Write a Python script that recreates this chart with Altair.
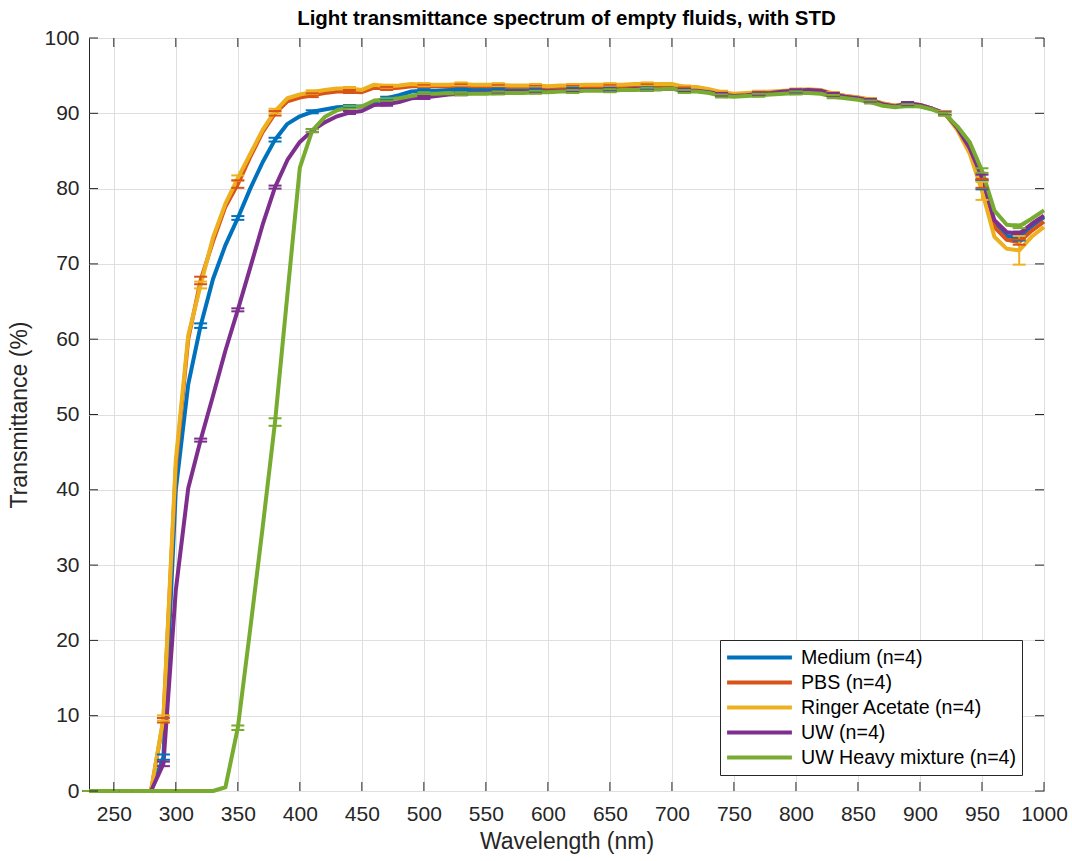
import altair as alt
import pandas as pd

# Wavelength grid of the spectrophotometer readings (nm)
wavelength = list(range(230, 1001, 10))

# Mean transmittance (%) per fluid, one value per wavelength
medium = [0, 0, 0, 0, 0, 0, 4.5, 40.0, 54.0, 61.8, 68.0, 72.5, 76.1, 80.0, 83.5, 86.5,
          88.6, 89.6, 90.2, 90.5, 90.8, 90.9, 90.9, 91.5, 92.0, 92.4, 92.9, 93.0,
          93.0, 93.1, 93.1, 93.1, 93.1, 93.1, 93.1, 93.1, 93.1, 93.1, 93.2, 93.2,
          93.2, 93.2, 93.2, 93.3, 93.3, 93.3, 93.3, 93.4, 93.1, 93.1, 92.9, 92.6,
          92.4, 92.5, 92.6, 92.7, 92.8, 92.9, 93.0, 92.9, 92.5, 92.2, 92.0, 91.7,
          91.2, 90.9, 91.2, 91.0, 90.6, 90.0, 88.1, 85.2, 80.5, 75.4, 73.7, 73.4,
          75.0, 76.2]
pbs = [0, 0, 0, 0, 0, 0, 9.4, 43.0, 60.0, 67.8, 73.0, 77.6, 80.6, 84.2, 87.5, 90.0,
       91.6, 92.1, 92.4, 92.7, 92.9, 92.9, 92.8, 93.4, 93.3, 93.4, 93.6, 93.6,
       93.6, 93.6, 93.7, 93.6, 93.6, 93.6, 93.5, 93.5, 93.5, 93.4, 93.5, 93.5,
       93.6, 93.6, 93.6, 93.6, 93.7, 93.7, 93.7, 93.7, 93.3, 93.3, 93.0, 92.7,
       92.5, 92.6, 92.7, 92.8, 92.9, 93.0, 93.1, 93.0, 92.6, 92.3, 92.1, 91.8,
       91.3, 91.0, 91.3, 91.1, 90.6, 90.0, 88.0, 85.0, 80.7, 74.9, 73.2, 72.9,
       74.4, 75.6]
ringer = [0, 0, 0, 0, 0, 0, 9.7, 44.0, 60.5, 67.2, 73.5, 78.0, 81.4, 84.6, 87.8, 90.3,
          92.0, 92.5, 92.8, 93.1, 93.3, 93.3, 93.1, 93.8, 93.6, 93.7, 93.9, 93.8,
          93.8, 93.8, 93.9, 93.8, 93.8, 93.8, 93.7, 93.7, 93.7, 93.6, 93.7, 93.7,
          93.8, 93.8, 93.8, 93.8, 93.9, 93.9, 93.9, 93.9, 93.5, 93.5, 93.2, 92.8,
          92.6, 92.7, 92.8, 92.9, 93.0, 93.1, 93.2, 93.1, 92.6, 92.3, 92.1, 91.8,
          91.3, 91.0, 91.3, 91.1, 90.6, 90.0, 87.8, 84.7, 79.7, 73.6, 72.0, 71.8,
          73.6, 74.9]
uw = [0, 0, 0, 0, 0, 0, 3.6, 26.7, 40.2, 46.6, 52.5, 58.5, 63.9, 69.5, 75.2, 80.2,
      83.8, 86.2, 87.7, 88.8, 89.6, 90.1, 90.3, 91.1, 91.2, 91.5, 92.0, 92.1,
      92.3, 92.5, 92.6, 92.7, 92.7, 92.8, 92.8, 92.8, 92.9, 92.9, 93.0, 93.0,
      93.1, 93.1, 93.1, 93.1, 93.2, 93.2, 93.2, 93.3, 93.0, 93.0, 92.8, 92.5,
      92.3, 92.4, 92.6, 92.7, 92.9, 93.0, 93.1, 93.0, 92.5, 92.2, 92.0, 91.7,
      91.2, 90.9, 91.3, 91.1, 90.6, 90.0, 88.1, 85.4, 81.5, 75.8, 74.2, 74.0,
      75.3, 76.4]
uw_heavy = [0, 0, 0, 0, 0, 0, 0, 0, 0, 0, 0, 0.5, 8.4, 21.5, 35.0, 49.0,
            66.0, 82.8, 87.7, 89.5, 90.4, 90.8, 90.9, 91.7, 91.8, 92.0, 92.3, 92.6,
            92.6, 92.7, 92.6, 92.6, 92.6, 92.7, 92.7, 92.7, 92.8, 92.8, 92.9, 92.9,
            93.0, 93.0, 93.0, 93.1, 93.1, 93.2, 93.2, 93.3, 92.9, 92.9, 92.7, 92.3,
            92.2, 92.3, 92.4, 92.5, 92.6, 92.7, 92.7, 92.6, 92.2, 92.0, 91.8, 91.5,
            91.0, 90.8, 91.0, 90.9, 90.5, 89.9, 88.3, 86.2, 82.4, 77.1, 75.2, 75.0,
            76.0, 77.1]

# Standard deviation (%) at every third wavelength, 230..980 nm
std_wavelength = list(range(230, 981, 30))
std_medium = [0, 0, 0.35, 0.3, 0.25, 0.25, 0.2, 0.2, 0.2, 0.2, 0.2, 0.2, 0.2,
              0.2, 0.2, 0.2, 0.2, 0.2, 0.2, 0.2, 0.2, 0.2, 0.2, 0.25, 0.6, 0.3]
std_pbs = [0, 0, 0.3, 0.5, 0.5, 0.3, 0.25, 0.2, 0.2, 0.2, 0.2, 0.2, 0.2,
           0.2, 0.2, 0.2, 0.2, 0.2, 0.2, 0.2, 0.2, 0.2, 0.2, 0.25, 0.6, 0.35]
std_ringer = [0, 0, 0.35, 0.45, 0.35, 0.3, 0.25, 0.2, 0.2, 0.2, 0.2, 0.2, 0.2,
              0.2, 0.2, 0.2, 0.2, 0.2, 0.2, 0.2, 0.2, 0.2, 0.2, 0.3, 1.2, 1.9]
std_uw = [0, 0, 0.3, 0.2, 0.2, 0.2, 0.2, 0.2, 0.2, 0.2, 0.2, 0.2, 0.2,
          0.2, 0.2, 0.2, 0.2, 0.2, 0.2, 0.2, 0.2, 0.2, 0.2, 0.2, 0.35, 0.3]
std_uw_heavy = [0, 0, 0, 0, 0.3, 0.5, 0.2, 0.2, 0.2, 0.2, 0.2, 0.2, 0.2,
                0.2, 0.2, 0.2, 0.2, 0.2, 0.2, 0.2, 0.2, 0.2, 0.2, 0.2, 0.3, 0.25]

names = ["Medium (n=4)", "PBS (n=4)", "Ringer Acetate (n=4)", "UW (n=4)",
         "UW Heavy mixture (n=4)"]
colors = ["#0072BD", "#D95319", "#EDB120", "#7E2F8E", "#77AC30"]
means = [medium, pbs, ringer, uw, uw_heavy]
stds = [std_medium, std_pbs, std_ringer, std_uw, std_uw_heavy]

x_ticks = list(range(250, 1001, 50))
y_ticks = list(range(0, 101, 10))

# Long tables for the lines and the error bars
line_rows = []
bar_rows = []
for k, (name, m, s) in enumerate(zip(names, means, stds)):
    for wl, v in zip(wavelength, m):
        line_rows.append({"series": name, "k": k, "wl": wl, "value": v})
    for wl, sd in zip(std_wavelength, s):
        v = m[wavelength.index(wl)]
        bar_rows.append({"series": name, "k": k, "wl": wl,
                         "value": v - sd, "hi": v + sd})
lines_df = pd.DataFrame(line_rows)
bars_df = pd.DataFrame(bar_rows)

W, H = 955, 753
FONT = "Liberation Sans"
TXT = "#262626"

x_scale = alt.Scale(domain=[230, 1000], nice=False, zero=False)
y_scale = alt.Scale(domain=[0, 100], nice=False)
color_scale = alt.Scale(domain=names, range=colors)

x_axis = alt.Axis(title="Wavelength (nm)", values=x_ticks, format="d",
                  labelFlush=False, labelPadding=12, titlePadding=6, grid=True)
y_axis = alt.Axis(title="Transmittance (%)", values=y_ticks, format="d",
                  labelPadding=10, titlePadding=12, grid=True)

X = alt.X("wl:Q", scale=x_scale, axis=x_axis)
Y = alt.Y("value:Q", scale=y_scale, axis=y_axis)

lines = alt.Chart(lines_df).mark_line(strokeWidth=4, strokeJoin="round").encode(
    x=X, y=Y,
    color=alt.Color("series:N", scale=color_scale, legend=alt.Legend(
        title=None, orient="none", legendX=631, legendY=602,
        symbolType="stroke", symbolStrokeWidth=4, symbolSize=4200,
        clipHeight=25, rowPadding=0,
        labelFont=FONT, labelFontSize=19.6, labelColor="black", labelOffset=7,
        strokeColor=TXT, fillColor="white", padding=5, labelLimit=400)),
    detail="k:Q",
)

bar_color = alt.Color("series:N", scale=color_scale, legend=None)
err_stem = alt.Chart(bars_df).mark_rule(strokeWidth=2, opacity=1).encode(
    x=X, y=Y, y2="hi:Q", color=bar_color)
err_lo = alt.Chart(bars_df).mark_tick(
    orient="horizontal", size=13, thickness=2, opacity=1).encode(
    x=X, y=Y, color=bar_color)
err_hi = alt.Chart(bars_df).mark_tick(
    orient="horizontal", size=13, thickness=2, opacity=1).encode(
    x=X, y=alt.Y("hi:Q", scale=y_scale, axis=y_axis), color=bar_color)

# Inward tick marks on all four sides of the box
xt = pd.DataFrame({"wl": x_ticks})
yt = pd.DataFrame({"value": y_ticks})
tick_style = dict(color=TXT, strokeWidth=1)
xt_bottom = alt.Chart(xt).mark_rule(**tick_style).encode(
    x=X, y=alt.value(H), y2=alt.value(H - 9))
xt_top = alt.Chart(xt).mark_rule(**tick_style).encode(
    x=X, y=alt.value(0), y2=alt.value(9))
yt_left = alt.Chart(yt).mark_rule(**tick_style).encode(
    y=Y, x=alt.value(0), x2=alt.value(9))
yt_right = alt.Chart(yt).mark_rule(**tick_style).encode(
    y=Y, x=alt.value(W), x2=alt.value(W - 9))

chart = alt.layer(
    lines, err_stem, err_lo, err_hi, xt_bottom, xt_top, yt_left, yt_right
).properties(
    width=W, height=H,
    title=alt.TitleParams("Light transmittance spectrum of empty fluids, with STD", dy=11),
    autosize=alt.AutoSizeParams(type="none"),
    padding={"left": 89, "top": 38, "right": 28, "bottom": 70},
    background="white",
).configure_view(
    stroke=TXT, strokeWidth=1,
).configure_axis(
    domain=False, ticks=False, gridColor="#dfdfdf", gridWidth=1,
    labelFont=FONT, labelFontSize=21, labelColor=TXT,
    titleFont=FONT, titleFontSize=23, titleColor=TXT, titleFontWeight="normal",
).configure_title(
    font=FONT, fontSize=20.5, fontWeight="bold", color="black", anchor="middle", offset=9,
)

chart.save("out.html", embed_options={"renderer": "svg", "actions": False})
